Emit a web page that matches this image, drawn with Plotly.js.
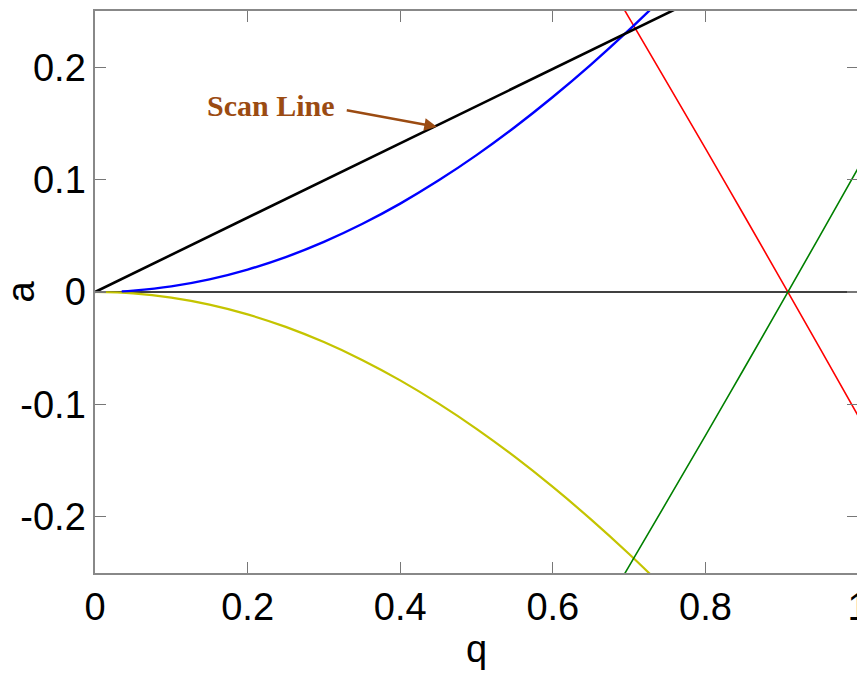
<!DOCTYPE html>
<html>
<head>
<meta charset="utf-8">
<script src="https://cdn.plot.ly/plotly-3.0.1.min.js"></script>
<style>
html, body { margin:0; padding:0; overflow:hidden; background:#fff; }
#chart { width:862px; height:680px; }
</style>
</head>
<body>
<div id="chart"></div>
<script>
// Values
const qLower = [0, 0.05, 0.1, 0.15, 0.2, 0.25, 0.3, 0.35, 0.4, 0.45, 0.5, 0.55, 0.6, 0.65, 0.7, 0.75];
const aYellow = [0, -0.00125, -0.00499, -0.01122, -0.01991, -0.03104, -0.04457, -0.06045, -0.07865, -0.09911, -0.12176, -0.14657, -0.17344, -0.20232, -0.23314, -0.26582];

const qBlue = [0.035, 0.05, 0.1, 0.15, 0.2, 0.25, 0.3, 0.35, 0.4, 0.45, 0.5, 0.55, 0.6, 0.65, 0.7, 0.75];
const aBlue = [0.0006, 0.00125, 0.00499, 0.01122, 0.01991, 0.03104, 0.04457, 0.06045, 0.07865, 0.09911, 0.12176, 0.14657, 0.17344, 0.20232, 0.23314, 0.26582];

const qUpper = [0.65, 0.7, 0.8, 0.85, 0.9, 0.95, 1.0];
const aRed = [0.30136, 0.24395, 0.12773, 0.06894, 0.00971, -0.04994, -0.11003];
const aGreen = [-0.30136, -0.24395, -0.12773, -0.06894, -0.00971, 0.04994, 0.11003];

const qScan = [0, 1];
const aScan = [0, 0.3307];

const qZero = [0, 1];
const aZero = [0, 0];

const xTicks = [0, 0.2, 0.4, 0.6, 0.8, 1];
const xTickText = ["0", "0.2", "0.4", "0.6", "0.8", "1"];
const yTicks = [-0.2, -0.1, 0, 0.1, 0.2];
const yTickText = ["-0.2", "-0.1", "0", "0.1", "0.2"];

const annText = "Scan Line";
const annTip = [0.448, 0.147];
const annTail = [0.328, 0.162];

const traces = [
  {x: qZero, y: aZero, mode: 'lines', line: {color: '#000000', width: 1.3}, hoverinfo: 'skip'},
  {x: qLower, y: aYellow, mode: 'lines', line: {color: '#c4c400', width: 2.2, shape: 'spline'}},
  {x: qUpper, y: aRed, mode: 'lines', line: {color: '#ff0000', width: 1.6, shape: 'spline'}},
  {x: qUpper, y: aGreen, mode: 'lines', line: {color: '#008000', width: 1.6, shape: 'spline'}},
  {x: qBlue, y: aBlue, mode: 'lines', line: {color: '#0000ff', width: 2.4, shape: 'spline'}},
  {x: qScan, y: aScan, mode: 'lines', line: {color: '#000000', width: 2.6}}
];

const tickFont = {family: '"Liberation Sans Narrow", "Liberation Sans", Arial, sans-serif', size: 38, color: '#000'};

const layout = {
  width: 862, height: 680,
  margin: {l: 95, r: 4, t: 11, b: 107},
  paper_bgcolor: '#fff', plot_bgcolor: '#fff',
  showlegend: false,
  xaxis: {
    range: [0, 1], tickvals: xTicks, ticktext: xTickText,
    ticks: 'inside', ticklen: 11, tickcolor: '#777', tickwidth: 1.3,
    showline: true, linecolor: '#888', linewidth: 1.6, mirror: 'ticks',
    showgrid: false, zeroline: false, ticklabeloverflow: 'allow',
    tickfont: tickFont,
    title: {text: 'q', font: tickFont, standoff: 8}
  },
  yaxis: {
    range: [-0.25, 0.25], tickvals: yTicks, ticktext: yTickText,
    ticks: 'inside', ticklen: 11, tickcolor: '#777', tickwidth: 1.3,
    showline: true, linecolor: '#888', linewidth: 1.6, mirror: 'ticks',
    showgrid: false, zeroline: false, ticklabeloverflow: 'allow',
    tickfont: tickFont,
    title: {text: 'a', font: tickFont, standoff: 12}
  },
  annotations: [
    {x: annTail[0], y: annTail[1], xref: 'x', yref: 'y', text: '<b>' + annText + '</b>',
     showarrow: false, xanchor: 'right', yanchor: 'middle', xshift: -8, yshift: 4,
     font: {family: '"Liberation Serif", "Times New Roman", serif', size: 30, color: '#9b4b12'}},
    {x: annTip[0], y: annTip[1], xref: 'x', yref: 'y', ax: annTail[0], ay: annTail[1],
     axref: 'x', ayref: 'y', text: '', showarrow: true, arrowhead: 2, arrowsize: 1,
     arrowwidth: 2.5, arrowcolor: '#9b4b12'}
  ]
};

Plotly.newPlot('chart', traces, layout, {displayModeBar: false, staticPlot: true});
</script>
</body>
</html>
